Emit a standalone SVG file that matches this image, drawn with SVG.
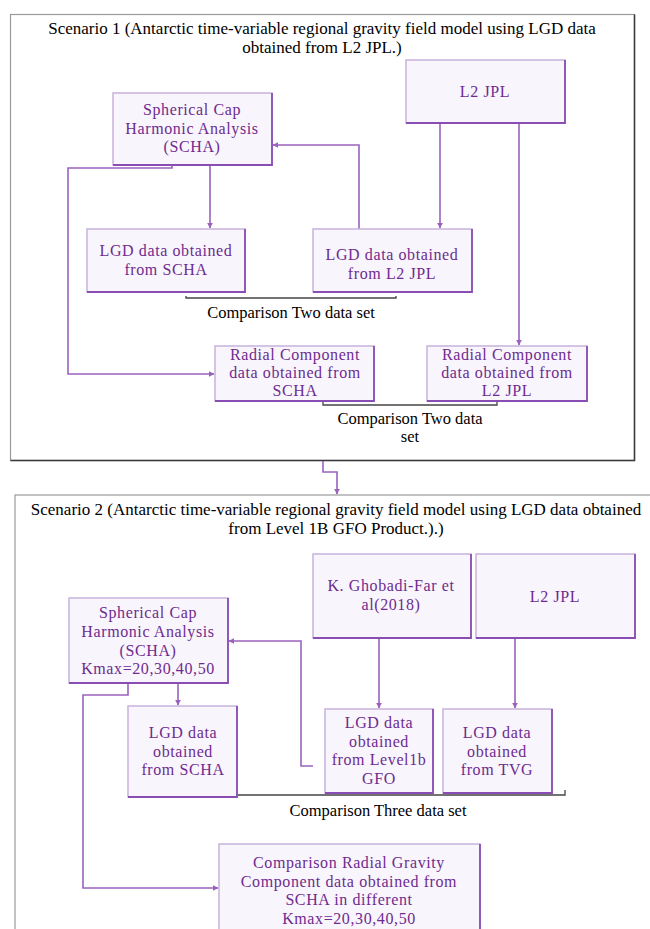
<svg xmlns="http://www.w3.org/2000/svg" width="650" height="929" viewBox="0 0 650 929">
<style>
.frame{fill:#fff;stroke:#9a9a9a;stroke-width:1.2}
.fshade{fill:none;stroke:#3a3a3a;stroke-width:1.5}
.box{fill:#f8f5fc;stroke:#c8b2dc;stroke-width:1.5}
.bshade{fill:none;stroke:#8a4db3;stroke-width:1.8}
.bt{font-family:"Liberation Serif",serif;font-size:16px;letter-spacing:0.6px;fill:#6e2b8f;text-anchor:middle}
.tt{font-family:"Liberation Serif",serif;font-size:17px;fill:#000;text-anchor:middle}
.ct{font-family:"Liberation Serif",serif;font-size:16.5px;fill:#000;text-anchor:middle}
.con{fill:none;stroke:#9a62bd;stroke-width:1.6}
.br{fill:none;stroke:#444;stroke-width:1.3}
</style>
<defs>
<marker id="ah" viewBox="0 0 10 10" refX="9" refY="5" markerWidth="6" markerHeight="6" orient="auto" markerUnits="userSpaceOnUse">
<path d="M0,0 L10,5 L0,10 z" fill="#9a62bd"/>
</marker>
</defs>

<g id="frame1">
<rect class="frame" x="10.5" y="14.5" width="624" height="446"/>
<path class="fshade" d="M634.5,14.5 V460.5 H10.5"/>
<text class="tt" x="322" y="34">Scenario 1 (Antarctic time-variable regional gravity field model using LGD data</text>
<text class="tt" x="322" y="53">obtained from L2 JPL.)</text>
</g>

<g id="frame2">
<rect class="frame" x="15" y="495" width="660" height="460"/>
<text class="tt" x="336" y="515">Scenario 2 (Antarctic time-variable regional gravity field model using LGD data obtained</text>
<text class="tt" x="336" y="534">from Level 1B GFO Product.).)</text>
</g>

<g id="connectors">
<path class="con" d="M359,229 V145 H273" marker-end="url(#ah)"/>
<path class="con" d="M440,123 V228" marker-end="url(#ah)"/>
<path class="con" d="M519,123 V345" marker-end="url(#ah)"/>
<path class="con" d="M210,165 V228" marker-end="url(#ah)"/>
<path class="con" d="M172,165 V168 H68 V374 H214" marker-end="url(#ah)"/>
<path class="con" d="M323,461 V472 H337 V494" marker-end="url(#ah)"/>
<path class="con" d="M313,766 H301 V641 H229" marker-end="url(#ah)"/>
<path class="con" d="M379,638 V708" marker-end="url(#ah)"/>
<path class="con" d="M515,638 V708" marker-end="url(#ah)"/>
<path class="con" d="M178,683 V705" marker-end="url(#ah)"/>
<path class="con" d="M128,683 V695 H83 V888 H218" marker-end="url(#ah)"/>
<path class="br" d="M186,296 V298 H396 V296"/>
<path class="br" d="M323,401 V405 H497 V401"/>
<path class="br" d="M194,795 H565 V790"/>
</g>

<g id="n_l2jpl1">
<rect class="box" x="406" y="60" width="159" height="63"/>
<path class="bshade" d="M565,60 V123 H406"/>
<text class="bt" x="485" y="97">L2 JPL</text>
</g>

<g id="n_scha1">
<rect class="box" x="113" y="93" width="159" height="72"/>
<path class="bshade" d="M272,93 V165 H113"/>
<text class="bt" x="192" y="115">Spherical Cap</text>
<text class="bt" x="192" y="133.5">Harmonic Analysis</text>
<text class="bt" x="192" y="152">(SCHA)</text>
</g>

<g id="n_lgd_scha1">
<rect class="box" x="87" y="229" width="158" height="63"/>
<path class="bshade" d="M245,229 V292 H87"/>
<text class="bt" x="166" y="256">LGD data obtained</text>
<text class="bt" x="166" y="274.5">from SCHA</text>
</g>

<g id="n_lgd_l2jpl1">
<rect class="box" x="313" y="229" width="159" height="63"/>
<path class="bshade" d="M472,229 V292 H313"/>
<text class="bt" x="392" y="260">LGD data obtained</text>
<text class="bt" x="392" y="278.5">from L2 JPL</text>
</g>

<g id="lbl_cmp1">
<text class="ct" x="291" y="318">Comparison Two data  set</text>
</g>

<g id="n_rad_scha">
<rect class="box" x="215" y="346" width="159" height="55"/>
<path class="bshade" d="M374,346 V401 H215"/>
<text class="bt" x="295" y="360">Radial Component</text>
<text class="bt" x="295" y="378">data obtained from</text>
<text class="bt" x="295" y="396">SCHA</text>
</g>

<g id="n_rad_l2jpl">
<rect class="box" x="427" y="346" width="160" height="55"/>
<path class="bshade" d="M587,346 V401 H427"/>
<text class="bt" x="507" y="360">Radial Component</text>
<text class="bt" x="507" y="378">data obtained from</text>
<text class="bt" x="507" y="396">L2 JPL</text>
</g>

<g id="lbl_cmp2">
<text class="ct" x="410" y="424">Comparison Two data</text>
<text class="ct" x="410" y="442">set</text>
</g>

<g id="n_ghobadi">
<rect class="box" x="313" y="554" width="158" height="84"/>
<path class="bshade" d="M471,554 V638 H313"/>
<text class="bt" x="391" y="591">K. Ghobadi-Far et</text>
<text class="bt" x="391" y="610">al(2018)</text>
</g>

<g id="n_l2jpl2">
<rect class="box" x="476" y="554" width="159" height="84"/>
<path class="bshade" d="M635,554 V638 H476"/>
<text class="bt" x="555" y="602">L2 JPL</text>
</g>

<g id="n_scha2">
<rect class="box" x="69" y="598" width="159" height="85"/>
<path class="bshade" d="M228,598 V683 H69"/>
<text class="bt" x="148" y="618">Spherical Cap</text>
<text class="bt" x="148" y="637">Harmonic Analysis</text>
<text class="bt" x="148" y="656">(SCHA)</text>
<text class="bt" x="148" y="674">Kmax=20,30,40,50</text>
</g>

<g id="n_lgd_scha2">
<rect class="box" x="128" y="706" width="109" height="91"/>
<path class="bshade" d="M237,706 V797 H128"/>
<text class="bt" x="183" y="738">LGD data</text>
<text class="bt" x="183" y="756.5">obtained</text>
<text class="bt" x="183" y="775">from SCHA</text>
</g>

<g id="n_lgd_l1b">
<rect class="box" x="325" y="709" width="108" height="84"/>
<path class="bshade" d="M433,709 V793 H325"/>
<text class="bt" x="379" y="728">LGD data</text>
<text class="bt" x="379" y="746.5">obtained</text>
<text class="bt" x="379" y="765">from Level1b</text>
<text class="bt" x="379" y="783.5">GFO</text>
</g>

<g id="n_lgd_tvg">
<rect class="box" x="443" y="709" width="109" height="84"/>
<path class="bshade" d="M552,709 V793 H443"/>
<text class="bt" x="497" y="738">LGD data</text>
<text class="bt" x="497" y="756.5">obtained</text>
<text class="bt" x="497" y="775">from TVG</text>
</g>

<g id="lbl_cmp3">
<text class="ct" x="378" y="816">Comparison Three data  set</text>
</g>

<g id="n_cmp_radial">
<rect class="box" x="219" y="844" width="261" height="100"/>
<path class="bshade" d="M480,844 V944"/>
<text class="bt" x="349" y="868">Comparison Radial Gravity</text>
<text class="bt" x="349" y="886.5">Component  data obtained from</text>
<text class="bt" x="349" y="905">SCHA in different</text>
<text class="bt" x="349" y="923.5">Kmax=20,30,40,50</text>
</g>
</svg>
